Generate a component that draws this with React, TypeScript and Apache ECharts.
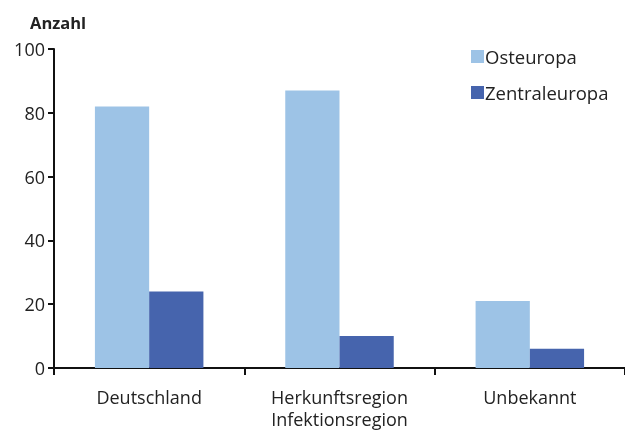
import React, { useEffect, useRef } from "react";
import * as echarts from "echarts";

const categories = ["Deutschland", "Herkunftsregion\nInfektionsregion", "Unbekannt"];
const osteuropa = [82, 87, 21];
const zentraleuropa = [24, 10, 6];
const yTicks = { min: 0, max: 100, interval: 20 };

export default function App() {
  const ref = useRef<HTMLDivElement>(null);
  useEffect(() => {
    const chart = echarts.init(ref.current!, null, { renderer: "svg" });
    const font = "Open Sans";
    chart.setOption({
      animation: false,
      textStyle: { fontFamily: font },
      grid: { left: 54, right: -2, top: 49, bottom: 64, containLabel: false },
      title: {
        text: "Anzahl",
        left: 25,
        top: 9,
        textStyle: { fontFamily: font, fontSize: 16.5, fontWeight: "bold", color: "#222" },
      },
      legend: {
        orient: "vertical",
        left: 466,
        top: 42,
        itemWidth: 13,
        itemHeight: 13,
        itemGap: 17,
        icon: "rect",
        textStyle: { fontFamily: font, fontSize: 18.5, color: "#222", padding: [0, 0, 0, -4] },
        data: ["Osteuropa", "Zentraleuropa"],
      },
      xAxis: {
        type: "category",
        data: categories,
        axisLine: { lineStyle: { color: "#111", width: 2 } },
        axisTick: { show: true, length: 7, lineStyle: { color: "#111", width: 2 } },
        axisLabel: { fontFamily: font, fontSize: 18, color: "#222", margin: 18, lineHeight: 22 },
      },
      yAxis: {
        type: "value",
        min: yTicks.min,
        max: yTicks.max,
        interval: yTicks.interval,
        splitLine: { show: false },
        axisLine: { show: true, lineStyle: { color: "#111", width: 2 } },
        axisTick: { show: true, length: 6, lineStyle: { color: "#111", width: 2 } },
        axisLabel: { fontFamily: font, fontSize: 18, color: "#222", margin: 9 },
      },
      series: [
        {
          name: "Osteuropa",
          type: "bar",
          data: osteuropa,
          itemStyle: { color: "#9DC3E6" },
          barGap: "0%",
          barCategoryGap: "43%",
        },
        {
          name: "Zentraleuropa",
          type: "bar",
          data: zentraleuropa,
          itemStyle: { color: "#4664AD" },
        },
      ],
    });
    return () => chart.dispose();
  }, []);
  return (
    <div
      ref={ref}
      style={{ position: "fixed", left: 0, top: 0, width: 625, height: 432 }}
    />
  );
}
